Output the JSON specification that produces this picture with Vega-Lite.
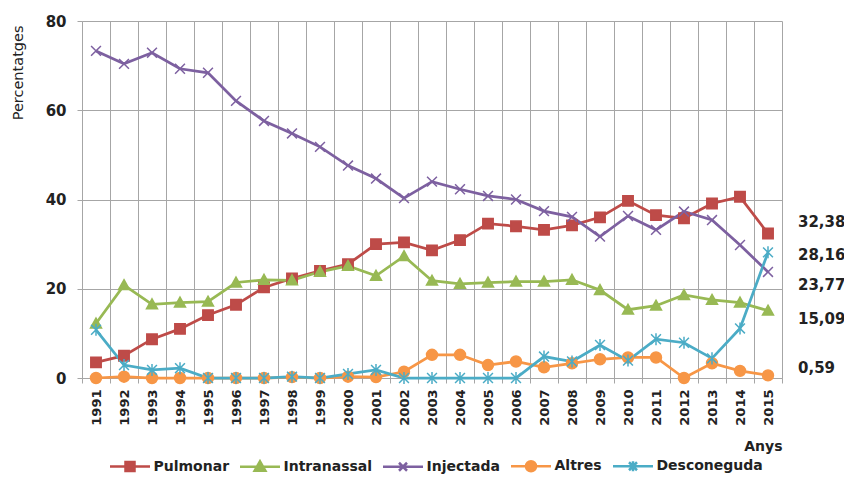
{
  "$schema": "https://vega.github.io/schema/vega-lite/v6.json",
  "width": 700,
  "height": 357,
  "autosize": {"type": "none"},
  "padding": {"left": 82, "top": 21, "right": 62, "bottom": 104},
  "background": "white",
  "config": {
    "locale": {"number": {"decimal": ",", "thousands": ".", "grouping": [3], "currency": ["", " €"]}},
    "view": {"stroke": null},
    "font": "DejaVu Sans",
    "axis": {"labelColor": "#222", "titleColor": "#222"}
  },
  "data": {"values": [
    {"year": 1991, "serie": "Pulmonar", "value": 3.5}, {"year": 1992, "serie": "Pulmonar", "value": 5.0}, {"year": 1993, "serie": "Pulmonar", "value": 8.7}, {"year": 1994, "serie": "Pulmonar", "value": 11.0}, {"year": 1995, "serie": "Pulmonar", "value": 14.1}, {"year": 1996, "serie": "Pulmonar", "value": 16.4}, {"year": 1997, "serie": "Pulmonar", "value": 20.3}, {"year": 1998, "serie": "Pulmonar", "value": 22.3}, {"year": 1999, "serie": "Pulmonar", "value": 24.0}, {"year": 2000, "serie": "Pulmonar", "value": 25.5}, {"year": 2001, "serie": "Pulmonar", "value": 30.0}, {"year": 2002, "serie": "Pulmonar", "value": 30.4}, {"year": 2003, "serie": "Pulmonar", "value": 28.6}, {"year": 2004, "serie": "Pulmonar", "value": 30.9}, {"year": 2005, "serie": "Pulmonar", "value": 34.6}, {"year": 2006, "serie": "Pulmonar", "value": 34.0}, {"year": 2007, "serie": "Pulmonar", "value": 33.2}, {"year": 2008, "serie": "Pulmonar", "value": 34.2}, {"year": 2009, "serie": "Pulmonar", "value": 36.0}, {"year": 2010, "serie": "Pulmonar", "value": 39.7}, {"year": 2011, "serie": "Pulmonar", "value": 36.5}, {"year": 2012, "serie": "Pulmonar", "value": 35.8}, {"year": 2013, "serie": "Pulmonar", "value": 39.1}, {"year": 2014, "serie": "Pulmonar", "value": 40.6}, {"year": 2015, "serie": "Pulmonar", "value": 32.38},
    {"year": 1991, "serie": "Intranassal", "value": 12.2}, {"year": 1992, "serie": "Intranassal", "value": 20.8}, {"year": 1993, "serie": "Intranassal", "value": 16.5}, {"year": 1994, "serie": "Intranassal", "value": 16.9}, {"year": 1995, "serie": "Intranassal", "value": 17.1}, {"year": 1996, "serie": "Intranassal", "value": 21.4}, {"year": 1997, "serie": "Intranassal", "value": 22.0}, {"year": 1998, "serie": "Intranassal", "value": 21.9}, {"year": 1999, "serie": "Intranassal", "value": 23.8}, {"year": 2000, "serie": "Intranassal", "value": 25.1}, {"year": 2001, "serie": "Intranassal", "value": 22.9}, {"year": 2002, "serie": "Intranassal", "value": 27.3}, {"year": 2003, "serie": "Intranassal", "value": 21.8}, {"year": 2004, "serie": "Intranassal", "value": 21.1}, {"year": 2005, "serie": "Intranassal", "value": 21.4}, {"year": 2006, "serie": "Intranassal", "value": 21.6}, {"year": 2007, "serie": "Intranassal", "value": 21.6}, {"year": 2008, "serie": "Intranassal", "value": 22.0}, {"year": 2009, "serie": "Intranassal", "value": 19.7}, {"year": 2010, "serie": "Intranassal", "value": 15.3}, {"year": 2011, "serie": "Intranassal", "value": 16.2}, {"year": 2012, "serie": "Intranassal", "value": 18.6}, {"year": 2013, "serie": "Intranassal", "value": 17.5}, {"year": 2014, "serie": "Intranassal", "value": 16.9}, {"year": 2015, "serie": "Intranassal", "value": 15.09},
    {"year": 1991, "serie": "Injectada", "value": 73.3}, {"year": 1992, "serie": "Injectada", "value": 70.4}, {"year": 1993, "serie": "Injectada", "value": 72.9}, {"year": 1994, "serie": "Injectada", "value": 69.3}, {"year": 1995, "serie": "Injectada", "value": 68.4}, {"year": 1996, "serie": "Injectada", "value": 62.1}, {"year": 1997, "serie": "Injectada", "value": 57.6}, {"year": 1998, "serie": "Injectada", "value": 54.8}, {"year": 1999, "serie": "Injectada", "value": 51.8}, {"year": 2000, "serie": "Injectada", "value": 47.6}, {"year": 2001, "serie": "Injectada", "value": 44.7}, {"year": 2002, "serie": "Injectada", "value": 40.3}, {"year": 2003, "serie": "Injectada", "value": 44.0}, {"year": 2004, "serie": "Injectada", "value": 42.3}, {"year": 2005, "serie": "Injectada", "value": 40.8}, {"year": 2006, "serie": "Injectada", "value": 40.0}, {"year": 2007, "serie": "Injectada", "value": 37.4}, {"year": 2008, "serie": "Injectada", "value": 36.1}, {"year": 2009, "serie": "Injectada", "value": 31.7}, {"year": 2010, "serie": "Injectada", "value": 36.3}, {"year": 2011, "serie": "Injectada", "value": 33.2}, {"year": 2012, "serie": "Injectada", "value": 37.3}, {"year": 2013, "serie": "Injectada", "value": 35.4}, {"year": 2014, "serie": "Injectada", "value": 29.8}, {"year": 2015, "serie": "Injectada", "value": 23.77},
    {"year": 1991, "serie": "Altres", "value": 0}, {"year": 1992, "serie": "Altres", "value": 0.3}, {"year": 1993, "serie": "Altres", "value": 0}, {"year": 1994, "serie": "Altres", "value": 0}, {"year": 1995, "serie": "Altres", "value": 0}, {"year": 1996, "serie": "Altres", "value": 0}, {"year": 1997, "serie": "Altres", "value": 0}, {"year": 1998, "serie": "Altres", "value": 0.2}, {"year": 1999, "serie": "Altres", "value": 0}, {"year": 2000, "serie": "Altres", "value": 0.3}, {"year": 2001, "serie": "Altres", "value": 0.2}, {"year": 2002, "serie": "Altres", "value": 1.4}, {"year": 2003, "serie": "Altres", "value": 5.2}, {"year": 2004, "serie": "Altres", "value": 5.2}, {"year": 2005, "serie": "Altres", "value": 2.9}, {"year": 2006, "serie": "Altres", "value": 3.7}, {"year": 2007, "serie": "Altres", "value": 2.4}, {"year": 2008, "serie": "Altres", "value": 3.3}, {"year": 2009, "serie": "Altres", "value": 4.2}, {"year": 2010, "serie": "Altres", "value": 4.6}, {"year": 2011, "serie": "Altres", "value": 4.6}, {"year": 2012, "serie": "Altres", "value": 0}, {"year": 2013, "serie": "Altres", "value": 3.3}, {"year": 2014, "serie": "Altres", "value": 1.6}, {"year": 2015, "serie": "Altres", "value": 0.59},
    {"year": 1991, "serie": "Desconeguda", "value": 10.8}, {"year": 1992, "serie": "Desconeguda", "value": 2.9}, {"year": 1993, "serie": "Desconeguda", "value": 1.8}, {"year": 1994, "serie": "Desconeguda", "value": 2.2}, {"year": 1995, "serie": "Desconeguda", "value": 0}, {"year": 1996, "serie": "Desconeguda", "value": 0}, {"year": 1997, "serie": "Desconeguda", "value": 0}, {"year": 1998, "serie": "Desconeguda", "value": 0.3}, {"year": 1999, "serie": "Desconeguda", "value": 0}, {"year": 2000, "serie": "Desconeguda", "value": 0.9}, {"year": 2001, "serie": "Desconeguda", "value": 1.8}, {"year": 2002, "serie": "Desconeguda", "value": 0}, {"year": 2003, "serie": "Desconeguda", "value": 0}, {"year": 2004, "serie": "Desconeguda", "value": 0}, {"year": 2005, "serie": "Desconeguda", "value": 0}, {"year": 2006, "serie": "Desconeguda", "value": 0}, {"year": 2007, "serie": "Desconeguda", "value": 4.8}, {"year": 2008, "serie": "Desconeguda", "value": 3.7}, {"year": 2009, "serie": "Desconeguda", "value": 7.4}, {"year": 2010, "serie": "Desconeguda", "value": 3.9}, {"year": 2011, "serie": "Desconeguda", "value": 8.7}, {"year": 2012, "serie": "Desconeguda", "value": 7.9}, {"year": 2013, "serie": "Desconeguda", "value": 4.4}, {"year": 2014, "serie": "Desconeguda", "value": 11.1}, {"year": 2015, "serie": "Desconeguda", "value": 28.16}
  ]},
  "resolve": {"scale": {"shape": "independent", "fill": "independent", "stroke": "independent"}},
  "layer": [
    {
      "mark": {"type": "line", "strokeWidth": 2.75},
      "encoding": {
        "x": {"field": "year", "type": "ordinal", "scale": {"type": "band", "paddingInner": 0, "paddingOuter": 0},
          "axis": {"title": "Anys", "titleX": 700, "titleY": 68, "titleAlign": "right", "titleBaseline": "middle", "titleFontSize": 14, "titleFontWeight": "bold", "labelAngle": 270, "labelFontSize": 13, "labelFontWeight": "bold", "labelPadding": 6, "tickBand": "extent", "grid": true, "gridColor": "#a6a6a6", "tickColor": "#a6a6a6", "tickSize": 5, "domainColor": "#a6a6a6"}},
        "y": {"field": "value", "type": "quantitative", "scale": {"domain": [0, 80], "nice": false},
          "axis": {"title": "Percentatges", "titleX": -64, "titleY": 4, "titleAngle": 270, "titleAlign": "right", "titleBaseline": "middle", "titleFontSize": 14.5, "titleFontWeight": "normal", "values": [0, 20, 40, 60, 80], "labelFontSize": 15, "labelFontWeight": "bold", "labelPadding": 11, "tickSize": 5, "tickColor": "#a6a6a6", "grid": true, "gridColor": "#a6a6a6", "domainColor": "#a6a6a6"}},
        "color": {"field": "serie", "type": "nominal",
          "scale": {"domain": ["Pulmonar", "Intranassal", "Injectada", "Altres", "Desconeguda"], "range": ["#BE4B48", "#98B954", "#7D60A0", "#F79646", "#4BACC6"]},
          "legend": null}
      }
    },
    {
      "mark": {"type": "point", "filled": true, "size": 120, "strokeWidth": 1.5, "opacity": 1},
      "encoding": {
        "x": {"field": "year", "type": "ordinal"},
        "y": {"field": "value", "type": "quantitative"},
        "shape": {"field": "serie", "type": "nominal",
          "scale": {"domain": ["Pulmonar", "Intranassal", "Injectada", "Altres", "Desconeguda"], "range": ["M-0.95,-0.95H0.95V0.95H-0.95Z", "M0,-1L1,0.8H-1Z", "M-0.9,-0.9L0.9,0.9M-0.9,0.9L0.9,-0.9", "circle", "M-0.9,-0.9L0.9,0.9M-0.9,0.9L0.9,-0.9M0,-1.1V1.1"]},
          "legend": null},
        "fill": {"field": "serie", "type": "nominal",
          "scale": {"domain": ["Pulmonar", "Intranassal", "Injectada", "Altres", "Desconeguda"], "range": ["#BE4B48", "#98B954", "#7D60A0", "#F79646", "#4BACC6"]}, "legend": null},
        "stroke": {"field": "serie", "type": "nominal",
          "scale": {"domain": ["Pulmonar", "Intranassal", "Injectada", "Altres", "Desconeguda"], "range": ["#BE4B48", "#98B954", "#7D60A0", "#F79646", "#4BACC6"]}, "legend": null}
      }
    },
    {
      "transform": [{"filter": "false"}],
      "mark": {"type": "point", "filled": true, "opacity": 1},
      "encoding": {
        "shape": {"field": "serie", "type": "nominal",
          "scale": {"domain": ["Pulmonar", "Intranassal", "Injectada", "Altres", "Desconeguda"], "range": [
            "M-1,0H1M-0.225,-0.225H0.225V0.225H-0.225Z",
            "M-1,0H1M0,-0.27L0.27,0.2H-0.27Z",
            "M-1,0H1M-0.2,-0.2L0.2,0.2M-0.2,0.2L0.2,-0.2",
            "M-1,0H1M0.25,0A0.25,0.25,0,1,1,-0.25,0A0.25,0.25,0,1,1,0.25,0Z",
            "M-1,0H1M-0.2,-0.2L0.2,0.2M-0.2,0.2L0.2,-0.2M0,-0.25V0.25"]},
          "legend": {"title": null, "orient": "none", "legendX": 26.5, "legendY": 423.5, "direction": "horizontal", "symbolSize": 1600, "symbolStrokeWidth": 2.5, "labelFontSize": 14, "labelFontWeight": "bold", "labelColor": "#222", "labelOffset": 2, "columnPadding": 5, "padding": 0}},
        "fill": {"field": "serie", "type": "nominal",
          "scale": {"domain": ["Pulmonar", "Intranassal", "Injectada", "Altres", "Desconeguda"], "range": ["#BE4B48", "#98B954", "#7D60A0", "#F79646", "#4BACC6"]}},
        "stroke": {"field": "serie", "type": "nominal",
          "scale": {"domain": ["Pulmonar", "Intranassal", "Injectada", "Altres", "Desconeguda"], "range": ["#BE4B48", "#98B954", "#7D60A0", "#F79646", "#4BACC6"]}}
      }
    },
    {
      "transform": [{"filter": "datum.serie == 'Pulmonar' && datum.year == 2015"}],
      "mark": {"type": "text", "align": "left", "baseline": "middle", "dx": 30, "dy": -11.5, "fontSize": 15, "fontWeight": "bold", "color": "#222"},
      "encoding": {"x": {"field": "year", "type": "ordinal"}, "y": {"field": "value", "type": "quantitative"}, "text": {"field": "value", "type": "quantitative", "format": ".2f"}}
    },
    {
      "transform": [{"filter": "datum.serie == 'Desconeguda' && datum.year == 2015"}],
      "mark": {"type": "text", "align": "left", "baseline": "middle", "dx": 30, "dy": 3, "fontSize": 15, "fontWeight": "bold", "color": "#222"},
      "encoding": {"x": {"field": "year", "type": "ordinal"}, "y": {"field": "value", "type": "quantitative"}, "text": {"field": "value", "type": "quantitative", "format": ".2f"}}
    },
    {
      "transform": [{"filter": "datum.serie == 'Injectada' && datum.year == 2015"}],
      "mark": {"type": "text", "align": "left", "baseline": "middle", "dx": 30, "dy": 13, "fontSize": 15, "fontWeight": "bold", "color": "#222"},
      "encoding": {"x": {"field": "year", "type": "ordinal"}, "y": {"field": "value", "type": "quantitative"}, "text": {"field": "value", "type": "quantitative", "format": ".2f"}}
    },
    {
      "transform": [{"filter": "datum.serie == 'Intranassal' && datum.year == 2015"}],
      "mark": {"type": "text", "align": "left", "baseline": "middle", "dx": 30, "dy": 8, "fontSize": 15, "fontWeight": "bold", "color": "#222"},
      "encoding": {"x": {"field": "year", "type": "ordinal"}, "y": {"field": "value", "type": "quantitative"}, "text": {"field": "value", "type": "quantitative", "format": ".2f"}}
    },
    {
      "transform": [{"filter": "datum.serie == 'Altres' && datum.year == 2015"}],
      "mark": {"type": "text", "align": "left", "baseline": "middle", "dx": 30, "dy": -7, "fontSize": 15, "fontWeight": "bold", "color": "#222"},
      "encoding": {"x": {"field": "year", "type": "ordinal"}, "y": {"field": "value", "type": "quantitative"}, "text": {"field": "value", "type": "quantitative", "format": ".2f"}}
    }
  ]
}
